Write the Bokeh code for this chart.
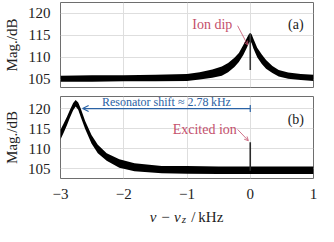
from bokeh.plotting import figure
from bokeh.layouts import column
from bokeh.models import (FixedTicker, Arrow, OpenHead, TeeHead, Label, Range1d)
from bokeh.embed import file_html
from bokeh.resources import INLINE

# ---------------- data ----------------
x_ticks = [-3, -2, -1, 0, 1]
x_tick_labels = ["\u22123", "\u22122", "\u22121", "0", "1"]
y_ticks = [105, 110, 115, 120]

# panel (a): noise band envelope of the ion-dip spectrum
a_x = [-3.0, -2.5, -2.0, -1.5, -1.0, -0.8, -0.6, -0.45, -0.35, -0.25, -0.18, -0.11,
       -0.05, -0.02, 0.0, 0.02, 0.05, 0.11, 0.18, 0.25, 0.35, 0.45, 0.6, 0.8, 1.0]
a_lo = [104.4, 104.4, 104.5, 104.5, 104.6, 104.9, 105.3, 105.8, 106.6, 107.8, 108.9, 110.5,
        112.3, 113.3, 113.6, 113.3, 112.0, 110.0, 108.5, 107.4, 106.4, 105.6, 105.1, 104.8, 104.6]
a_hi = [105.8, 105.9, 105.9, 106.0, 106.2, 106.6, 107.2, 107.9, 108.7, 109.9, 111.0, 112.8,
        114.5, 115.3, 115.5, 115.3, 114.2, 112.2, 110.7, 109.4, 108.0, 107.1, 106.5, 106.2, 106.0]
ion_x = 0.0
dip_top = 115.4
dip_bottom = 107.1

# panel (b): noise band envelope of the shifted-resonator spectrum
b_x = [-3.0, -2.95, -2.9, -2.85, -2.8, -2.76, -2.72, -2.68, -2.61, -2.51, -2.41, -2.27,
       -2.07, -1.83, -1.4, -1.0, -0.5, 0.0, 0.5, 1.0]
b_lo = [112.3, 114.0, 115.8, 117.8, 119.6, 120.5, 119.7, 117.9, 114.9, 111.3, 108.9, 107.0,
        105.3, 104.4, 103.9, 103.8, 103.7, 103.7, 103.7, 103.7]
b_hi = [114.7, 116.3, 117.9, 119.7, 121.4, 122.1, 121.5, 120.0, 116.9, 113.4, 111.0, 108.9,
        107.4, 106.4, 105.7, 105.7, 105.6, 105.6, 105.6, 105.6]
spike_bottom = 104.5
spike_top = 111.6
resonator_shift = 2.78

# ---------------- styling ----------------
SERIF = "Liberation Serif"
RED = "#c4506c"
BLUE = "#2a62a4"
FRAME = "#6e6e6e"
GRID = "#dedede"
INK = "#222222"


def style(p):
    p.outline_line_color = FRAME
    p.outline_line_width = 1
    p.background_fill_color = "white"
    p.border_fill_color = "white"
    p.xgrid.ticker = FixedTicker(ticks=x_ticks)
    p.ygrid.ticker = FixedTicker(ticks=y_ticks)
    p.xgrid.grid_line_color = GRID
    p.ygrid.grid_line_color = GRID
    for ax in (p.xaxis[0], p.yaxis[0]):
        ax.axis_line_color = None
        ax.major_tick_line_color = None
        ax.minor_tick_line_color = None
        ax.major_label_text_font = SERIF
        ax.major_label_text_font_size = "15px"
        ax.major_label_text_color = INK
        ax.axis_label_text_font = SERIF
        ax.axis_label_text_font_size = "15px"
        ax.axis_label_text_font_style = "normal"
        ax.axis_label_text_color = INK
    p.yaxis.ticker = FixedTicker(ticks=y_ticks)
    p.yaxis.major_label_standoff = 4
    p.yaxis.axis_label = "Mag./dB"
    p.yaxis.axis_label_standoff = 5
    p.xaxis.ticker = FixedTicker(ticks=x_ticks)
    p.xaxis.major_label_overrides = {t: l for t, l in zip(x_ticks, x_tick_labels)}


common = dict(output_backend="svg", toolbar_location=None, width=318,
              x_range=Range1d(-3, 1), min_border_left=46, min_border_right=5)

# ---------------- panel (a) ----------------
p1 = figure(height=92, y_range=Range1d(103.1, 122.5), min_border_top=2,
            min_border_bottom=5, **common)
style(p1)
p1.xaxis.visible = False
p1.varea(x=a_x, y1=a_lo, y2=a_hi, fill_color="black")
p1.segment(x0=[ion_x], y0=[dip_bottom], x1=[ion_x], y1=[dip_top],
           line_color="#3a3a3a", line_width=1.6)
p1.add_layout(Label(x=ion_x - 0.6, y=117.5, text="Ion dip", text_align="center",
                    text_baseline="middle", text_font=SERIF, text_font_size="14px",
                    text_color=RED))
p1.add_layout(Arrow(x_start=ion_x - 0.2, y_start=117.2, x_end=ion_x - 0.04, y_end=112.8,
                    line_color=RED, line_width=0.8,
                    end=OpenHead(size=4, line_color=RED, line_width=0.8)))
p1.add_layout(Label(x=0.72, y=117.5, text="(a)", text_align="center",
                    text_baseline="middle", text_font=SERIF, text_font_size="14px",
                    text_color=INK))

# ---------------- panel (b) ----------------
p2 = figure(height=109, y_range=Range1d(102.6, 123.0), min_border_top=4,
            min_border_bottom=20, **common)
style(p2)
p2.xaxis.major_label_standoff = 4
p2.varea(x=b_x, y1=b_lo, y2=b_hi, fill_color="black")
p2.segment(x0=[ion_x], y0=[spike_bottom], x1=[ion_x], y1=[spike_top],
           line_color="#2a2a2a", line_width=1.6)

arrow_y = 120
arrow_tip = ion_x - resonator_shift + 0.13
p2.add_layout(Arrow(x_start=ion_x, y_start=arrow_y, x_end=arrow_tip, y_end=arrow_y,
                    line_color=BLUE, line_width=1.2,
                    start=TeeHead(size=7, line_color=BLUE, line_width=1.2),
                    end=OpenHead(size=6, line_color=BLUE, line_width=1.2)))
p2.add_layout(Label(x=(ion_x + arrow_tip) / 2, y=arrow_y, y_offset=6.5,
                    text="Resonator shift \u2248 %.2f\u2009kHz" % resonator_shift,
                    text_align="center", text_baseline="middle", text_font=SERIF,
                    text_font_size="12px", text_color=BLUE))
p2.add_layout(Label(x=ion_x - 0.72, y=114.7, text="Excited ion", text_align="center",
                    text_baseline="middle", text_font=SERIF, text_font_size="14px",
                    text_color=RED))
p2.add_layout(Arrow(x_start=ion_x - 0.2, y_start=114.8, x_end=ion_x - 0.03, y_end=112.0,
                    line_color=RED, line_width=0.8,
                    end=OpenHead(size=4, line_color=RED, line_width=0.8)))
p2.add_layout(Label(x=0.72, y=117.3, text="(b)", text_align="center",
                    text_baseline="middle", text_font=SERIF, text_font_size="14px",
                    text_color=INK))

# ---------------- x-axis title strip: "ν − ν_z / kHz" with subscript z ----------------
p3 = figure(height=25, y_range=Range1d(0, 25), min_border_top=0, min_border_bottom=0,
            x_axis_location=None, y_axis_location=None, **common)
p3.outline_line_color = None
p3.xgrid.visible = False
p3.ygrid.visible = False
p3.border_fill_color = "white"
xl_x = -1.1
xl_y = 10          # baseline, in pixels above the strip's bottom
p3.add_layout(Label(x=xl_x, y=xl_y, text="\u03bd \u2212 \u03bd", text_align="right",
                    text_baseline="alphabetic", text_font=SERIF, text_font_size="15px",
                    text_font_style="italic", text_color=INK))
p3.add_layout(Label(x=xl_x, y=xl_y, x_offset=1, y_offset=-2.5, text="z", text_align="left",
                    text_baseline="alphabetic", text_font=SERIF, text_font_size="11px",
                    text_font_style="italic", text_color=INK))
p3.add_layout(Label(x=xl_x, y=xl_y, x_offset=7.5, text="\u2009/\u2009kHz", text_align="left",
                    text_baseline="alphabetic", text_font=SERIF, text_font_size="15px",
                    text_color=INK))

layout = column(p1, p2, p3, spacing=0)
open("out.html", "w").write(file_html(layout, INLINE))
